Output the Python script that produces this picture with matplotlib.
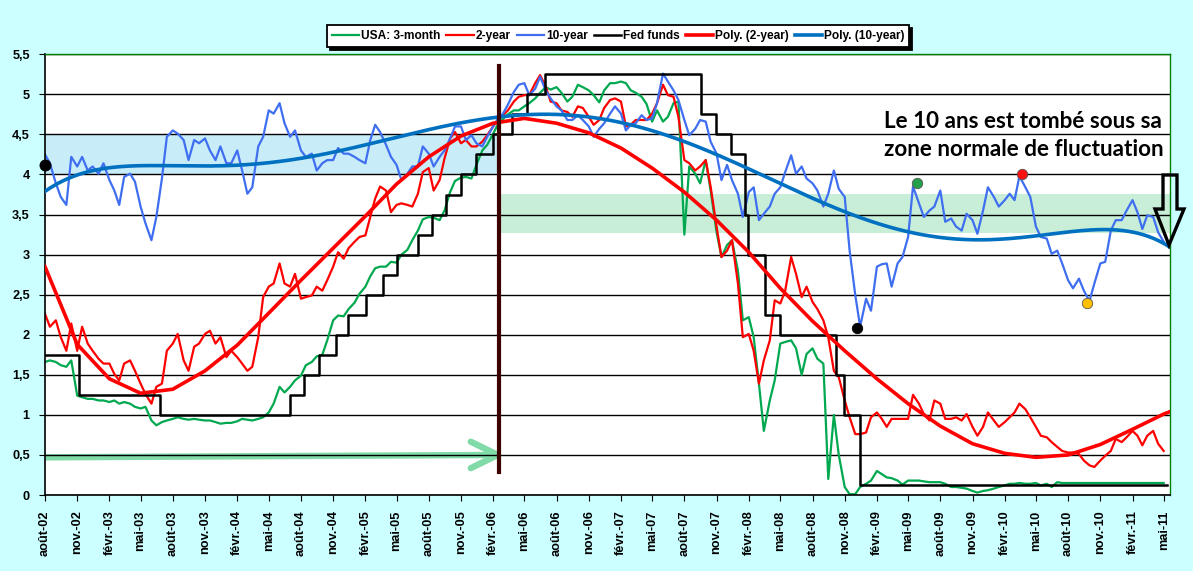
import numpy as np
import pandas as pd
import matplotlib
matplotlib.use("Agg")
import matplotlib.pyplot as plt
from matplotlib.patches import Polygon

# dates (1er et 15 de chaque mois)
dates = pd.date_range("2002-08-01", "2011-05-01", freq="SMS")

# USA 3-month
y3m = [1.66, 1.68, 1.66, 1.62, 1.60, 1.68, 1.24, 1.22, 1.20, 1.20,
       1.18, 1.18, 1.16, 1.18, 1.14, 1.16, 1.14, 1.10, 1.08, 1.10,
       0.93, 0.87, 0.91, 0.93, 0.95, 0.97, 0.95, 0.94, 0.95, 0.94,
       0.93, 0.93, 0.91, 0.89, 0.90, 0.90, 0.92, 0.95, 0.94, 0.93,
       0.95, 0.97, 1.03, 1.14, 1.35, 1.28, 1.35, 1.43, 1.49, 1.62,
       1.66, 1.73, 1.75, 1.93, 2.18, 2.24, 2.23, 2.32, 2.40, 2.51,
       2.60, 2.73, 2.83, 2.85, 2.85, 2.91, 2.90, 3.00, 3.06, 3.18,
       3.30, 3.44, 3.47, 3.46, 3.43, 3.55, 3.78, 3.92, 3.96, 3.97,
       3.95, 4.12, 4.30, 4.37, 4.51, 4.63, 4.69, 4.75, 4.80, 4.80,
       4.85, 4.89, 4.95, 5.02, 5.09, 5.06, 5.09, 5.02, 4.91, 4.97,
       5.12, 5.09, 5.05, 4.99, 4.90, 5.05, 5.14, 5.14, 5.16, 5.14,
       5.05, 5.02, 4.97, 4.88, 4.66, 4.80, 4.66, 4.72, 4.89, 4.91,
       3.25, 4.10, 4.01, 3.89, 4.18, 3.80, 3.28, 2.97, 3.12, 3.18,
       2.80, 2.18, 2.22, 1.97, 1.39, 0.80, 1.18, 1.43, 1.89, 1.91,
       1.93, 1.83, 1.50, 1.76, 1.83, 1.70, 1.64, 0.20, 1.00, 0.50,
       0.10, 0.01, 0.01, 0.10, 0.14, 0.18, 0.30, 0.26, 0.22, 0.21,
       0.18, 0.13, 0.18, 0.18, 0.18, 0.17, 0.16, 0.16, 0.16, 0.14,
       0.10, 0.10, 0.09, 0.08, 0.05, 0.03, 0.05, 0.06, 0.08, 0.10,
       0.12, 0.14, 0.14, 0.15, 0.14, 0.14, 0.15, 0.12, 0.14, 0.10,
       0.16, 0.15, 0.15, 0.15, 0.15, 0.15, 0.15, 0.15, 0.15, 0.15,
       0.15, 0.15, 0.15, 0.15, 0.15, 0.15, 0.15, 0.15, 0.15, 0.15, 0.15]

# 2-year
y2 = [2.26, 2.10, 2.18, 1.97, 1.80, 2.14, 1.80, 2.10, 1.89, 1.80,
      1.70, 1.64, 1.64, 1.51, 1.43, 1.64, 1.68, 1.55, 1.39, 1.26,
      1.14, 1.35, 1.39, 1.80, 1.89, 2.01, 1.68, 1.55, 1.85, 1.89,
      2.01, 2.05, 1.89, 1.97, 1.72, 1.80, 1.72, 1.64, 1.55, 1.60,
      1.97, 2.47, 2.60, 2.64, 2.89, 2.64, 2.60, 2.76, 2.45, 2.47,
      2.49, 2.60, 2.55, 2.68, 2.85, 3.03, 2.95, 3.08, 3.16, 3.22,
      3.24, 3.47, 3.70, 3.85, 3.80, 3.53, 3.62, 3.64, 3.62, 3.60,
      3.76, 4.03, 4.08, 3.80, 3.93, 4.20, 4.45, 4.53, 4.39, 4.43,
      4.35, 4.35, 4.41, 4.49, 4.60, 4.68, 4.74, 4.80, 4.91, 4.97,
      4.99, 4.99, 5.14, 5.24, 5.10, 4.91, 4.89, 4.80, 4.78, 4.72,
      4.85, 4.83, 4.72, 4.62, 4.68, 4.83, 4.93, 4.95, 4.91, 4.60,
      4.62, 4.68, 4.68, 4.68, 4.76, 4.89, 5.12, 4.99, 4.97, 4.72,
      4.18, 4.14, 4.05, 4.10, 4.18, 3.85, 3.35, 2.97, 3.05, 3.18,
      2.64, 1.97, 2.01, 1.80, 1.39, 1.68, 1.93, 2.43, 2.39, 2.55,
      2.97, 2.76, 2.47, 2.60, 2.41, 2.32, 2.18, 1.97, 1.55, 1.47,
      1.18, 0.97, 0.76, 0.76, 0.78, 0.97, 1.03, 0.95, 0.85, 0.95,
      0.95, 0.95, 0.95, 1.25, 1.14, 1.01, 0.93, 1.18, 1.14, 0.95,
      0.95, 0.97, 0.93, 1.01, 0.85, 0.74, 0.85, 1.03, 0.93, 0.85,
      0.91, 0.97, 1.03, 1.14, 1.07, 0.97, 0.85, 0.74, 0.72, 0.66,
      0.60, 0.55, 0.53, 0.53, 0.51, 0.43, 0.37, 0.35, 0.43, 0.49,
      0.55, 0.70, 0.66, 0.72, 0.80, 0.74, 0.62, 0.74, 0.80, 0.64, 0.55]

# 10-year
y10 = [4.25, 4.14, 3.89, 3.72, 3.62, 4.22, 4.10, 4.22, 4.05, 4.10,
       4.01, 4.14, 3.93, 3.80, 3.62, 3.97, 4.01, 3.91, 3.60, 3.39,
       3.18, 3.47, 3.95, 4.47, 4.55, 4.51, 4.43, 4.18, 4.43, 4.39,
       4.45, 4.30, 4.18, 4.35, 4.14, 4.14, 4.30, 4.05, 3.76, 3.84,
       4.35, 4.47, 4.80, 4.76, 4.89, 4.64, 4.47, 4.55, 4.30, 4.22,
       4.26, 4.05, 4.14, 4.18, 4.18, 4.33, 4.26, 4.26, 4.22, 4.18,
       4.14, 4.43, 4.62, 4.53, 4.37, 4.22, 4.12, 3.93, 4.01, 4.10,
       4.10, 4.35, 4.26, 4.10, 4.22, 4.30, 4.45, 4.60, 4.60, 4.43,
       4.49, 4.39, 4.35, 4.47, 4.60, 4.70, 4.76, 4.87, 5.03, 5.12,
       5.14, 4.99, 5.07, 5.22, 5.05, 4.95, 4.85, 4.80, 4.68, 4.68,
       4.74, 4.68, 4.60, 4.47, 4.57, 4.64, 4.76, 4.85, 4.76, 4.55,
       4.62, 4.64, 4.74, 4.68, 4.70, 4.89, 5.26, 5.16, 5.05, 4.93,
       4.68, 4.49, 4.57, 4.68, 4.66, 4.41, 4.26, 3.93, 4.12, 3.93,
       3.76, 3.47, 3.78, 3.84, 3.43, 3.51, 3.60, 3.76, 3.84, 4.03,
       4.24, 4.01, 4.10, 3.95, 3.89, 3.80, 3.60, 3.76, 4.05, 3.82,
       3.72, 3.05, 2.50, 2.10, 2.45, 2.30, 2.85, 2.88, 2.89, 2.60,
       2.89, 2.97, 3.22, 3.85, 3.64, 3.47, 3.55, 3.60, 3.80, 3.41,
       3.45, 3.35, 3.30, 3.51, 3.43, 3.26, 3.55, 3.84, 3.72, 3.60,
       3.68, 3.76, 3.68, 3.98, 3.84, 3.72, 3.35, 3.22, 3.20, 3.01,
       3.05, 2.89, 2.68, 2.58, 2.70, 2.55, 2.42, 2.64, 2.89, 2.91,
       3.30, 3.43, 3.43, 3.55, 3.68, 3.53, 3.32, 3.49, 3.47, 3.28, 3.16]

# Fed funds (paliers)
ff_dates = ["2002-08-01", "2002-11-06", "2003-06-25", "2004-06-30", "2004-08-10",
            "2004-09-21", "2004-11-10", "2004-12-14", "2005-02-02", "2005-03-22",
            "2005-05-03", "2005-06-30", "2005-08-09", "2005-09-20", "2005-11-01",
            "2005-12-13", "2006-01-31", "2006-03-28", "2006-05-10", "2006-06-29",
            "2007-09-18", "2007-10-31", "2007-12-11", "2008-01-22", "2008-01-30",
            "2008-03-18", "2008-04-30", "2008-10-08", "2008-10-29", "2008-12-16",
            "2011-05-10"]
ff_vals = [1.75, 1.25, 1.00, 1.25, 1.50, 1.75, 2.00, 2.25, 2.50, 2.75,
           3.00, 3.25, 3.50, 3.75, 4.00, 4.25, 4.50, 4.75, 5.00, 5.25,
           4.75, 4.50, 4.25, 3.50, 3.00, 2.25, 2.00, 1.50, 1.00, 0.125,
           0.125]

# courbe de tendance du 2 ans (trimestrielle)
tend2_dates = list(pd.date_range("2002-08-01", "2011-05-01", freq="3MS")) + [pd.Timestamp("2011-05-19")]
tend2 = [2.85, 1.88, 1.45, 1.27, 1.32, 1.55, 1.87, 2.27, 2.68, 3.08,
         3.48, 3.88, 4.22, 4.48, 4.64, 4.70, 4.64, 4.52, 4.33, 4.08,
         3.78, 3.43, 3.03, 2.58, 2.17, 1.80, 1.45, 1.14, 0.86, 0.64,
         0.52, 0.47, 0.50, 0.63, 0.82, 1.01, 1.04]

# points marquants du 10 ans
pt_dates = ["2002-08-01", "2008-12-06", "2009-05-27", "2010-03-23", "2010-09-24"]
pt_vals = [4.12, 2.08, 3.90, 4.00, 2.39]
pt_cols = ["#000000", "#000000", "#22A04A", "#FF1010", "#FFC000"]

# zones de fluctuation
zone_10ans_av = (4.0, 4.5)
zone_10ans_ap = (3.27, 3.76)
date_cassure = "2006-02-17"

xmin, xmax = pd.Timestamp("2002-08-01"), pd.Timestamp("2011-05-19")

W, H = 1193, 571
fig = plt.figure(figsize=(W / 100, H / 100), dpi=100)
fig.patch.set_facecolor("#CCFFFF")
ax = fig.add_axes([45 / W, 1 - 495 / H, 1125 / W, 440.7 / H])
ax.set_facecolor("white")

# bandes
ax.fill_between([xmin, pd.Timestamp(date_cassure)], *zone_10ans_av, color="#C8ECF8", lw=0, zorder=0.3)
ax.fill_between([pd.Timestamp(date_cassure), xmax], *zone_10ans_ap, color="#C8EED8", lw=0, zorder=0.3)

# fleche verte horizontale
ax.plot([xmin, pd.Timestamp("2006-02-14")], [0.47, 0.50], color="#80DBA8", lw=4.6,
        solid_capstyle="round", zorder=0.4)
ax.plot([pd.Timestamp("2005-11-29"), pd.Timestamp("2006-02-14"), pd.Timestamp("2005-11-29")],
        [0.665, 0.50, 0.335], color="#80DBA8", lw=4.6, solid_capstyle="round",
        solid_joinstyle="round", zorder=0.4)

# series
l1, = ax.plot(dates, y3m, color="#00A84F", lw=1.6, zorder=2)
l2, = ax.plot(dates, y2, color="#FF0000", lw=1.6, zorder=2.1)
l3, = ax.plot(dates, y10, color="#3F6FF0", lw=1.6, zorder=2.2)
l4, = ax.plot(pd.to_datetime(ff_dates), ff_vals, color="black", lw=1.8, drawstyle="steps-post", zorder=2.3)

# tendances
l5, = ax.plot(tend2_dates, tend2, color="#FF0000", lw=2.6, zorder=3, solid_joinstyle="round")
t = (dates - dates[0]).days.values / 3300.0
tt = pd.date_range(xmin, xmax, freq="D")
tn = (tt - dates[0]).days.values / 3300.0
p10 = np.polyval(np.polyfit(t, y10, 6), tn)
l6, = ax.plot(tt, p10, color="#0070C0", lw=2.6, zorder=3.1)

# trait vertical
ax.plot([pd.Timestamp(date_cassure)] * 2, [0.29, 5.36], color="#3C0000", lw=3, zorder=5)

# points
for d, v, c in zip(pt_dates, pt_vals, pt_cols):
    ax.plot(pd.Timestamp(d), v, "o", ms=8 if d == pt_dates[0] else 7.5, color=c,
            mec="#555555" if c != "#000000" else "black", mew=0.6, zorder=6, clip_on=False)

ax.set_xlim(xmin, xmax)
ax.set_ylim(0, 5.5)
yt = np.arange(0, 5.51, 0.5)
ax.set_yticks(yt)
ax.set_yticklabels([("%g" % v).replace(".", ",") for v in yt])
ax.yaxis.grid(True, color="black", lw=1.0)
ax.set_axisbelow(True)

mois = {8: "août", 11: "nov.", 2: "févr.", 5: "mai"}
xt = pd.date_range("2002-08-01", "2011-05-01", freq="3MS")
ax.set_xticks(xt)
ax.set_xticklabels(["%s-%02d" % (mois[d.month], d.year % 100) for d in xt], rotation=90, va="top")

for lab in ax.get_xticklabels() + ax.get_yticklabels():
    lab.set_fontfamily("Liberation Sans")
    lab.set_fontweight("bold")
    lab.set_fontsize(9.2)
ax.tick_params(axis="x", length=4, pad=7, direction="out")
ax.tick_params(axis="y", length=4, pad=7, direction="out")

for s in ["left", "bottom"]:
    ax.spines[s].set_color("black")
    ax.spines[s].set_linewidth(1.2)
for s in ["top", "right"]:
    ax.spines[s].set_color("#008000")
    ax.spines[s].set_linewidth(1.0)

leg = fig.legend([l1, l2, l3, l4, l5, l6],
                 ["USA: 3-month", "2-year", "10-year", "Fed funds", "Poly. (2-year)", "Poly. (10-year)"],
                 loc="center", bbox_to_anchor=(618 / W, 1 - 36 / H), ncol=6, frameon=True,
                 fancybox=False, shadow={"color": "black", "alpha": 1.0}, edgecolor="black",
                 prop={"family": "Liberation Sans", "weight": "bold", "size": 8.6},
                 handlelength=2.3, handletextpad=0.15, columnspacing=0.5, borderpad=0.4,
                 borderaxespad=0)
leg.get_frame().set_linewidth(1.3)

# texte
fig.text(884 / W, 1 - 128 / H, "Le 10 ans est tombé sous sa", fontfamily="Lato",
         fontweight="bold", fontsize=16.2, ha="left", va="baseline")
fig.text(884 / W, 1 - 156 / H, "zone normale de fluctuation", fontfamily="Lato",
         fontweight="bold", fontsize=16.2, ha="left", va="baseline")

# grosse fleche vers le bas
pts = [(1163, 175), (1177, 175), (1177, 209), (1184, 209), (1169, 245), (1155, 209), (1163, 209)]
fig.patches.append(Polygon([(x / W, 1 - y / H) for x, y in pts], closed=True, fill=False,
                           edgecolor="black", lw=2.4, joinstyle="miter",
                           transform=fig.transFigure, figure=fig, zorder=10))

fig.savefig("out.png", dpi=100, facecolor=fig.get_facecolor())
